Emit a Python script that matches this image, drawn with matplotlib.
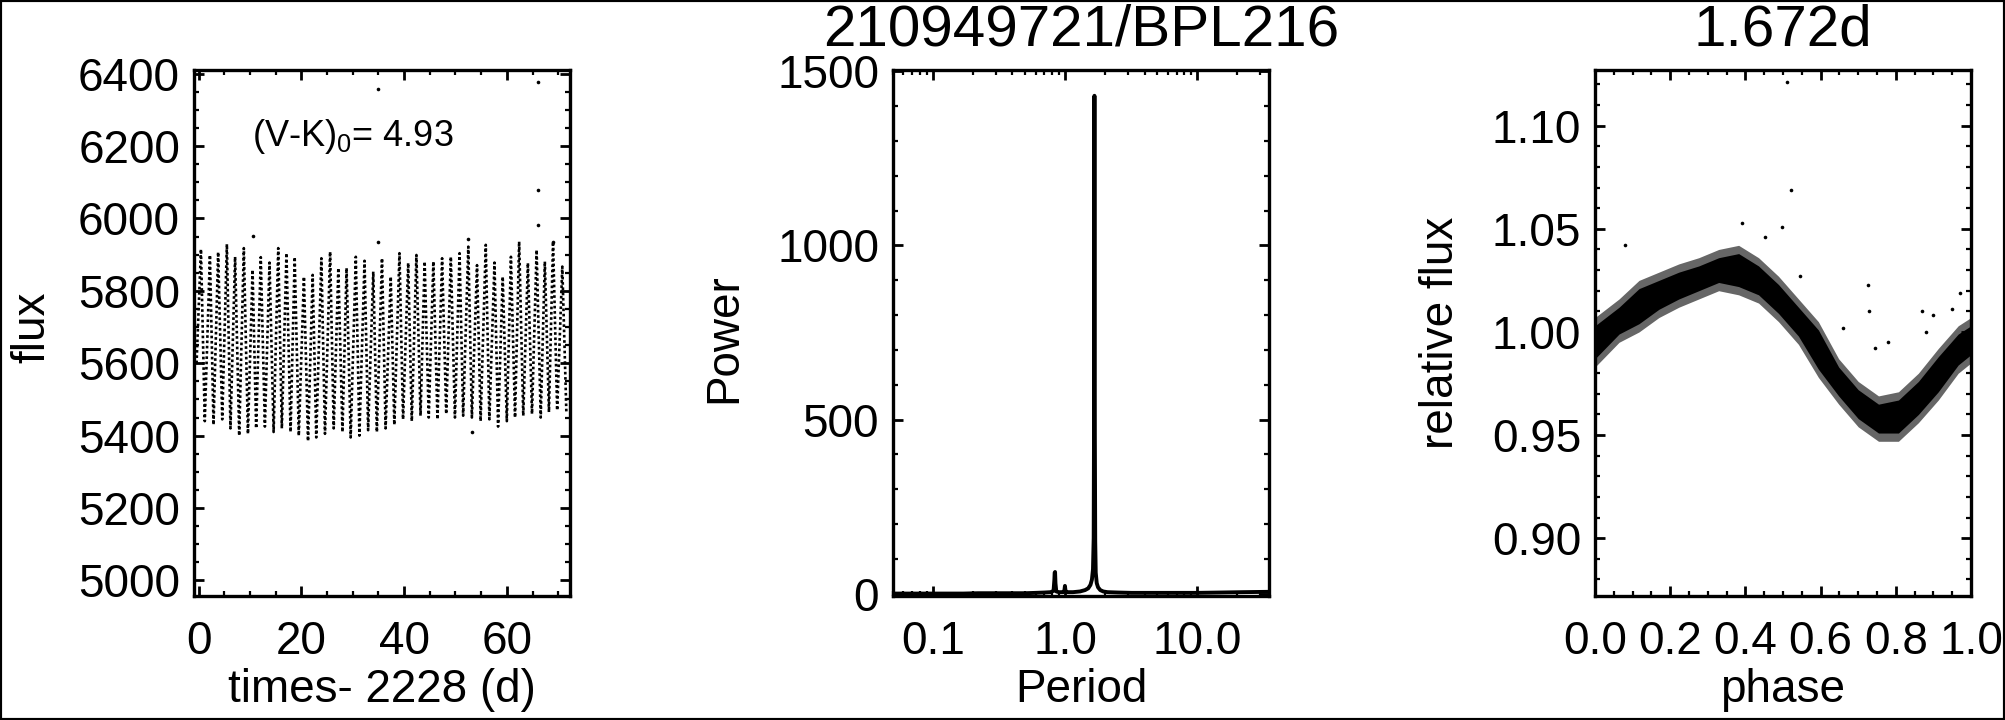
import numpy as np
import matplotlib
matplotlib.use('Agg')
import matplotlib.pyplot as plt
from matplotlib.patches import Rectangle
from matplotlib.ticker import MultipleLocator, LogLocator, NullFormatter

plt.rcParams['font.family'] = ['Liberation Sans', 'DejaVu Sans']
plt.rcParams['mathtext.fontset'] = 'custom'
plt.rcParams['mathtext.rm'] = 'Liberation Sans'
plt.rcParams['mathtext.it'] = 'Liberation Sans'

# --- panel 1: light curve, read per cycle (time of max / min and their flux)
t_max = [0.45, 2.2, 3.8, 5.5, 7.1, 8.8, 10.5, 12.1, 13.8, 15.5, 17.1, 18.7, 20.5, 22.2,
         23.9, 25.6, 27.2, 28.8, 30.6, 32.3, 34.0, 35.7, 37.4, 39.1, 40.8, 42.4, 44.0,
         45.7, 47.4, 49.1, 50.8, 52.5, 54.2, 55.9, 57.6, 59.2, 60.8, 62.4, 64.1, 65.8,
         67.4, 69.0, 70.8]
f_max = [5915, 5899, 5907, 5929, 5894, 5918, 5858, 5893, 5878, 5918, 5904, 5893, 5839, 5844,
         5890, 5908, 5863, 5863, 5894, 5883, 5853, 5890, 5839, 5904, 5877, 5899, 5881,
         5881, 5890, 5894, 5904, 5922, 5871, 5927, 5878, 5839, 5894, 5936, 5877, 5913,
         5881, 5936, 5867]
t_min = [1.2, 2.9, 4.6, 6.2, 7.9, 9.6, 11.2, 12.9, 14.6, 16.2, 17.9, 19.5, 21.3, 22.9,
         24.6, 26.3, 28.0, 29.6, 31.3, 33.0, 34.7, 36.4, 38.1, 39.8, 41.5, 43.2, 44.8,
         46.5, 48.2, 49.9, 51.5, 53.2, 54.9, 56.6, 58.3, 60.0, 61.6, 63.2, 64.9, 66.6,
         68.2, 69.8, 71.6]
f_min = [5440, 5430, 5445, 5420, 5400, 5405, 5420, 5425, 5410, 5420, 5410, 5400, 5385, 5395,
         5405, 5420, 5410, 5395, 5400, 5415, 5410, 5420, 5430, 5445, 5440, 5455, 5450,
         5445, 5460, 5450, 5455, 5450, 5440, 5445, 5425, 5440, 5450, 5455, 5460, 5450,
         5465, 5470, 5460]
t_start, f_start = -0.4, 5600
lc_out_t = [34.9, 66.1, 66.1, 66.1, 10.6, 34.9, 52.5, 69.0, 53.2]
lc_out_f = [6357, 6378, 6079, 5982, 5952, 5936, 5943, 5936, 5410]

# --- panel 2: periodogram
period = [0.05, 0.06, 0.08, 0.1, 0.13, 0.17, 0.22, 0.3, 0.4, 0.5, 0.6, 0.7, 0.78, 0.82,
          0.832, 0.836, 0.842, 0.848, 0.86, 0.9, 0.97, 0.99, 1.0, 1.01, 1.03, 1.15, 1.3,
          1.42, 1.5, 1.56, 1.6, 1.63, 1.65, 1.66, 1.667, 1.672, 1.677, 1.684, 1.695, 1.71,
          1.74, 1.78, 1.85, 1.95, 2.1, 2.5, 3.2, 4.5, 6.5, 10, 15, 22, 35]
power = [0, 0, 0, 0, 0, 0, 1, 1, 1, 1, 2, 3, 4, 8,
         40, 60, 62, 30, 6, 4, 4, 8, 22, 8, 4, 4, 6,
         10, 15, 25, 40, 70, 160, 500, 1100, 1430, 1100, 450, 150, 60,
         30, 18, 10, 6, 4, 3, 2, 2, 2, 2, 3, 4, 5]

# --- panel 3: phase-folded band (lower / upper envelope) and stray points
band_phase = [0.0, 0.064, 0.117, 0.17, 0.223, 0.276, 0.329, 0.382, 0.435, 0.488, 0.541,
              0.594, 0.648, 0.70, 0.754, 0.807, 0.86, 0.913, 0.966, 1.0]
band_lo = [0.983, 0.995, 1.000, 1.007, 1.012, 1.016, 1.020, 1.018, 1.014, 1.005, 0.994,
           0.978, 0.965, 0.954, 0.947, 0.947, 0.956, 0.967, 0.980, 0.985]
band_hi = [1.007, 1.016, 1.025, 1.029, 1.033, 1.036, 1.040, 1.042, 1.036, 1.027, 1.016,
           1.005, 0.987, 0.976, 0.969, 0.971, 0.980, 0.992, 1.003, 1.007]
ph_out = [0.51, 0.522, 0.391, 0.497, 0.451, 0.080, 0.545, 0.727, 0.730, 0.660, 0.870,
          0.899, 0.881, 0.780, 0.746, 0.971, 0.950]
fl_out = [1.121, 1.069, 1.053, 1.051, 1.046, 1.042, 1.027, 1.023, 1.010, 1.002, 1.010,
          1.008, 1.000, 0.995, 0.992, 1.019, 1.011]

FS = 33

fig = plt.figure(figsize=(20.05, 7.2), dpi=100)
W, H = 2005, 720
axw, axh = 376 / W, 526 / H
bot = (H - 596) / H
ax1 = fig.add_axes([194 / W, bot, axw, axh])
ax2 = fig.add_axes([893 / W, bot, axw, axh])
ax3 = fig.add_axes([1595 / W, bot, axw, axh])

for ax in (ax1, ax2, ax3):
    for s in ax.spines.values():
        s.set_linewidth(2.4)
    ax.tick_params(which='both', direction='in', top=True, right=True, labelsize=FS)
    ax.tick_params(which='major', length=7.5, width=2.0)
    ax.tick_params(which='minor', length=3.8, width=1.6)
    ax.tick_params(axis='y', pad=10)
    ax.tick_params(axis='x', pad=17)

# Panel 1
lc_t = [t_start] + list(np.column_stack([t_max, t_min]).ravel())
lc_f = [f_start] + list(np.column_stack([f_max, f_min]).ravel())
ax1.plot(lc_t, lc_f, color='k', lw=1.9, linestyle=(0, (1, 1.0)), dash_capstyle='butt')
ax1.plot(lc_out_t, lc_out_f, 'o', color='k', ms=2.6, mew=0)
ax1.set_xlim(-0.9, 72.3)
ax1.set_ylim(4957, 6410)
ax1.xaxis.set_major_locator(MultipleLocator(20))
ax1.xaxis.set_minor_locator(MultipleLocator(5))
ax1.yaxis.set_major_locator(MultipleLocator(200))
ax1.yaxis.set_minor_locator(MultipleLocator(50))
ax1.set_xlabel('times- 2228 (d)', fontsize=FS)
ax1.set_ylabel('flux', fontsize=FS, va='center')
ax1.xaxis.set_label_coords(0.5, -0.137)
ax1.yaxis.set_label_coords(-0.43, 0.51)
ax1.text(0.154, 0.855, '(V-K)$_0$= 4.93', transform=ax1.transAxes, fontsize=26,
         va='baseline')

# Panel 2
ax2.plot(period, power, color='k', lw=2.8)
ax2.set_xscale('log')
ax2.set_xlim(0.05, 35)
ax2.set_ylim(-7, 1504)
ax2.set_xticks([0.1, 1, 10], labels=['0.1', '1.0', '10.0'])
ax2.xaxis.set_minor_locator(LogLocator(base=10, subs=np.arange(2, 10)))
ax2.xaxis.set_minor_formatter(NullFormatter())
ax2.yaxis.set_major_locator(MultipleLocator(500))
ax2.yaxis.set_minor_locator(MultipleLocator(100))
ax2.set_xlabel('Period', fontsize=FS)
ax2.set_ylabel('Power', fontsize=FS, va='center')
ax2.xaxis.set_label_coords(0.5, -0.137)
ax2.yaxis.set_label_coords(-0.45, 0.49)
ax2.set_title('210949721/BPL216', fontsize=42, pad=18)

# Panel 3
core_lo = np.array(band_lo) + 0.004
core_hi = np.array(band_hi) - 0.004
ax3.fill_between(band_phase, band_lo, band_hi, color='k', alpha=0.6, lw=0)
ax3.fill_between(band_phase, core_lo, core_hi, color='k', lw=0)
ax3.plot(ph_out, fl_out, 'o', color='k', ms=2.6, mew=0)
ax3.set_xlim(0, 1)
ax3.set_ylim(0.872, 1.127)
ax3.set_xticks([0, 0.2, 0.4, 0.6, 0.8, 1.0],
               labels=['0.0', '0.2', '0.4', '0.6', '0.8', '1.0'])
ax3.xaxis.set_minor_locator(MultipleLocator(0.05))
ax3.set_yticks([0.90, 0.95, 1.00, 1.05, 1.10],
               labels=['0.90', '0.95', '1.00', '1.05', '1.10'])
ax3.yaxis.set_minor_locator(MultipleLocator(0.01))
ax3.set_xlabel('phase', fontsize=FS)
ax3.set_ylabel('relative flux', fontsize=FS, va='center')
ax3.xaxis.set_label_coords(0.5, -0.137)
ax3.yaxis.set_label_coords(-0.41, 0.5)
ax3.set_title('1.672d', fontsize=42, pad=18)

fig.patches.append(Rectangle((0, 0), 1, 1, transform=fig.transFigure, fill=False,
                             lw=3, ec='black'))

fig.savefig('out.png', dpi=100)
